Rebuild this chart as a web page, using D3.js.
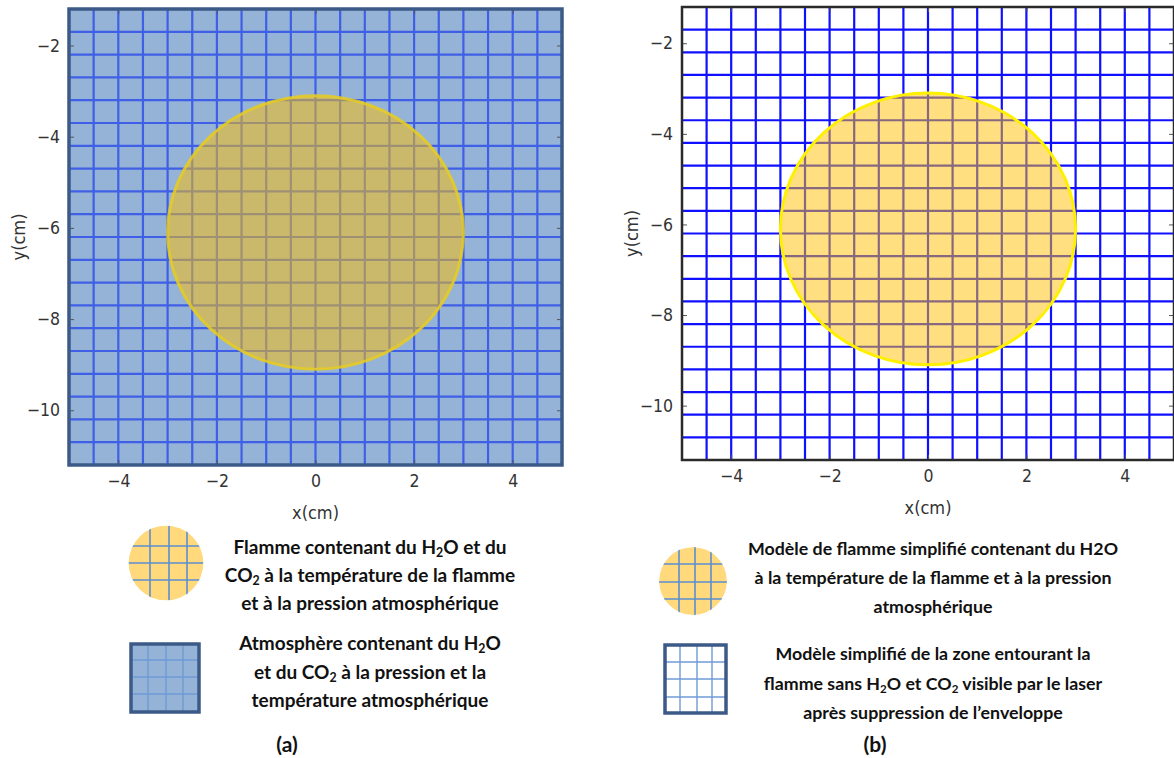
<!DOCTYPE html>
<html><head><meta charset="utf-8">
<script src="https://cdn.jsdelivr.net/npm/d3@7"></script>
<style>
body{margin:0;background:#fff;}
.tick text{font-family:"DejaVu Sans Condensed","DejaVu Sans",sans-serif;}
</style></head>
<body><svg id="c" width="1174" height="758"></svg>
<script>
// ---- data ----
const xDomain = [-5, 5];
const yDomain = [-11.2, -1.2];
const xTicks = [-4, -2, 0, 2, 4];
const yTicks = [-2, -4, -6, -8, -10];
const gridX = [-4.5,-4,-3.5,-3,-2.5,-2,-1.5,-1,-0.5,0,0.5,1,1.5,2,2.5,3,3.5,4,4.5];
const gridY = [-1.7,-2.2,-2.7,-3.2,-3.7,-4.2,-4.7,-5.2,-5.7,-6.2,-6.7,-7.2,-7.7,-8.2,-8.7,-9.2,-9.7,-10.2,-10.7];
const flame = {cx: 0, cy: -6.1, r: 3};
const axisLabels = {x: "x(cm)", y: "y(cm)"};
const legendA = [
  [["Flamme contenant du H"],["2","sub"],["O et du"]],
  [["CO"],["2","sub"],[" à la température de la flamme"]],
  [["et à la pression atmosphérique"]]
];
const legendA2 = [
  [["Atmosphère contenant du H"],["2","sub"],["O"]],
  [["et du CO"],["2","sub"],[" à la pression et la"]],
  [["température atmosphérique"]]
];
const legendB = [
  [["Modèle de flamme simplifié contenant du H2O"]],
  [["à la température de la flamme et à la pression"]],
  [["atmosphérique"]]
];
const legendB2 = [
  [["Modèle simplifié de la zone entourant la"]],
  [["flamme sans H"],["2","sub"],["O et CO"],["2","sub"],[" visible par le laser"]],
  [["après suppression de l’enveloppe"]]
];
const panelLabels = ["(a)", "(b)"];

const svg = d3.select("#c");

function panel(opt){
  const g = svg.append("g");
  const x = d3.scaleLinear().domain(xDomain).range([opt.x0, opt.x1]);
  const y = d3.scaleLinear().domain(yDomain).range([opt.y1, opt.y0]);
  const clipId = "clip" + opt.id;
  svg.append("clipPath").attr("id", clipId).append("rect")
    .attr("x", opt.x0).attr("y", opt.y0).attr("width", opt.x1-opt.x0).attr("height", opt.y1-opt.y0);
  const inner = g.append("g").attr("clip-path", `url(#${clipId})`);
  inner.append("rect").attr("x", opt.x0).attr("y", opt.y0)
    .attr("width", opt.x1-opt.x0).attr("height", opt.y1-opt.y0).attr("fill", opt.bg);
  inner.selectAll(".gx").data(gridX).join("line")
    .attr("x1", d=>x(d)).attr("x2", d=>x(d)).attr("y1", opt.y0).attr("y2", opt.y1)
    .attr("stroke", opt.grid).attr("stroke-width", 2.2);
  inner.selectAll(".gy").data(gridY).join("line")
    .attr("y1", d=>y(d)).attr("y2", d=>y(d)).attr("x1", opt.x0).attr("x2", opt.x1)
    .attr("stroke", opt.grid).attr("stroke-width", 2.2);
  const rx = Math.abs(x(flame.r) - x(0)), ry = Math.abs(y(0) - y(flame.r));
  inner.append("ellipse").attr("cx", x(flame.cx)).attr("cy", y(flame.cy))
    .attr("rx", rx).attr("ry", ry)
    .attr("fill", opt.flameFill).attr("fill-opacity", opt.flameOpacity)
    .attr("stroke", opt.flameStroke).attr("stroke-width", 3).attr("stroke-opacity", opt.flameStrokeOpacity);
  const ax = g.append("g").attr("transform", `translate(0,${opt.y1})`)
    .call(d3.axisBottom(x).tickValues(xTicks).tickSizeInner(-5).tickSizeOuter(0).tickPadding(10).tickFormat(d3.format("")));
  const ay = g.append("g").attr("transform", `translate(${opt.x0},0)`)
    .call(d3.axisLeft(y).tickValues(yTicks).tickSizeInner(-5).tickSizeOuter(0).tickPadding(9).tickFormat(d3.format("")));
  const ayr = g.append("g").attr("transform", `translate(${opt.x1},0)`)
    .call(d3.axisRight(y).tickValues(yTicks).tickSizeInner(-5).tickSizeOuter(0).tickFormat(""));
  const axt = g.append("g").attr("transform", `translate(0,${opt.y0})`)
    .call(d3.axisTop(x).tickValues(xTicks).tickSizeInner(-5).tickSizeOuter(0).tickFormat(""));
  [ax, ay, ayr, axt].forEach(a=>{
    a.select(".domain").remove();
    a.selectAll(".tick line").attr("stroke", "#555").attr("stroke-width", 1);
    a.selectAll(".tick text").attr("fill", "#333").attr("font-size", 17.5);
  });
  g.append("rect").attr("x", opt.x0).attr("y", opt.y0)
    .attr("width", opt.x1-opt.x0).attr("height", opt.y1-opt.y0)
    .attr("fill", "none").attr("stroke", opt.frame).attr("stroke-width", opt.frameW);
  g.append("text").attr("x", (opt.x0+opt.x1)/2).attr("y", opt.y1+54)
    .attr("text-anchor","middle").attr("font-family","DejaVu Sans Condensed, DejaVu Sans, sans-serif")
    .attr("font-size", 18).attr("fill","#333").text(axisLabels.x);
  g.append("text").attr("transform", `translate(${opt.x0-44},${y(-6.2)}) rotate(-90)`)
    .attr("text-anchor","middle").attr("font-family","DejaVu Sans Condensed, DejaVu Sans, sans-serif")
    .attr("font-size", 18).attr("fill","#333").text(axisLabels.y);
}

panel({id:"a", x0:69, x1:562, y0:9, y1:465, bg:"#95b3d7", grid:"#3f5fe6",
  flameFill:"#ffc000", flameOpacity:0.5, flameStroke:"#e8cc20", flameStrokeOpacity:0.85,
  frame:"#3c5a88", frameW:3.5});
panel({id:"b", x0:682, x1:1174, y0:7, y1:460, bg:"#ffffff", grid:"#1010ff",
  flameFill:"#ffc000", flameOpacity:0.5, flameStroke:"#fff000", flameStrokeOpacity:1,
  frame:"#2a2a2a", frameW:2.5});

// ---- legends ----
function richText(lines, cx, ys, size){
  lines.forEach((parts, i)=>{
    const t = svg.append("text").attr("x", cx).attr("y", ys[i]).attr("text-anchor","middle")
      .attr("font-family","Lato, 'Open Sans', sans-serif").attr("font-weight","bold")
      .attr("font-size", size).attr("fill","#111");
    let prevSub = false;
    parts.forEach(p=>{
      const s = t.append("tspan").text(p[0]);
      if (p[1]==="sub") { s.attr("font-size", size*0.65).attr("dy", 3); prevSub = true; }
      else if (prevSub) { s.attr("dy", -3); prevSub = false; }
    });
  });
}
function circleIcon(cx, cy, r, xs, ys, id){
  svg.append("clipPath").attr("id", id).append("circle").attr("cx", cx).attr("cy", cy).attr("r", r);
  const g = svg.append("g").attr("clip-path", `url(#${id})`);
  g.append("circle").attr("cx", cx).attr("cy", cy).attr("r", r).attr("fill", "#ffd97c");
  xs.forEach(v=>g.append("line").attr("x1", v).attr("x2", v).attr("y1", cy-r).attr("y2", cy+r).attr("stroke","#5b8ed0").attr("stroke-width",1.6));
  ys.forEach(v=>g.append("line").attr("y1", v).attr("y2", v).attr("x1", cx-r).attr("x2", cx+r).attr("stroke","#5b8ed0").attr("stroke-width",1.6));
}
function squareIcon(x0, y0, x1, y1, fill, xs, ys){
  svg.append("rect").attr("x", x0).attr("y", y0).attr("width", x1-x0).attr("height", y1-y0).attr("fill", fill);
  xs.forEach(v=>svg.append("line").attr("x1", v).attr("x2", v).attr("y1", y0).attr("y2", y1).attr("stroke","#6f9ad6").attr("stroke-width",1.4));
  ys.forEach(v=>svg.append("line").attr("y1", v).attr("y2", v).attr("x1", x0).attr("x2", x1).attr("stroke","#6f9ad6").attr("stroke-width",1.4));
  svg.append("rect").attr("x", x0).attr("y", y0).attr("width", x1-x0).attr("height", y1-y0)
    .attr("fill","none").attr("stroke","#3c5a88").attr("stroke-width",3.5);
}

circleIcon(166, 563, 37.5, [150, 169, 187], [546, 563, 580], "ca");
squareIcon(131, 644, 199, 712, "#95b3d7", [148, 166, 183], [660, 677, 694]);
circleIcon(693, 581, 34, [679, 695, 711], [564, 582, 599], "cb");
squareIcon(665, 645, 726, 713, "#ffffff", [680, 697, 712], [662, 679, 697]);

richText(legendA, 370, [554, 582, 610], 19);
richText(legendA2, 370, [650, 679, 707], 19);
richText(legendB, 933, [555, 584, 613], 17.8);
richText(legendB2, 933, [660, 690, 719], 17.8);

svg.append("text").attr("x", 287).attr("y", 752).attr("text-anchor","middle")
  .attr("font-family","Lato, sans-serif").attr("font-weight","bold").attr("font-size",21).attr("fill","#111").text(panelLabels[0]);
svg.append("text").attr("x", 875).attr("y", 752).attr("text-anchor","middle")
  .attr("font-family","Lato, sans-serif").attr("font-weight","bold").attr("font-size",21).attr("fill","#111").text(panelLabels[1]);
</script></body></html>
